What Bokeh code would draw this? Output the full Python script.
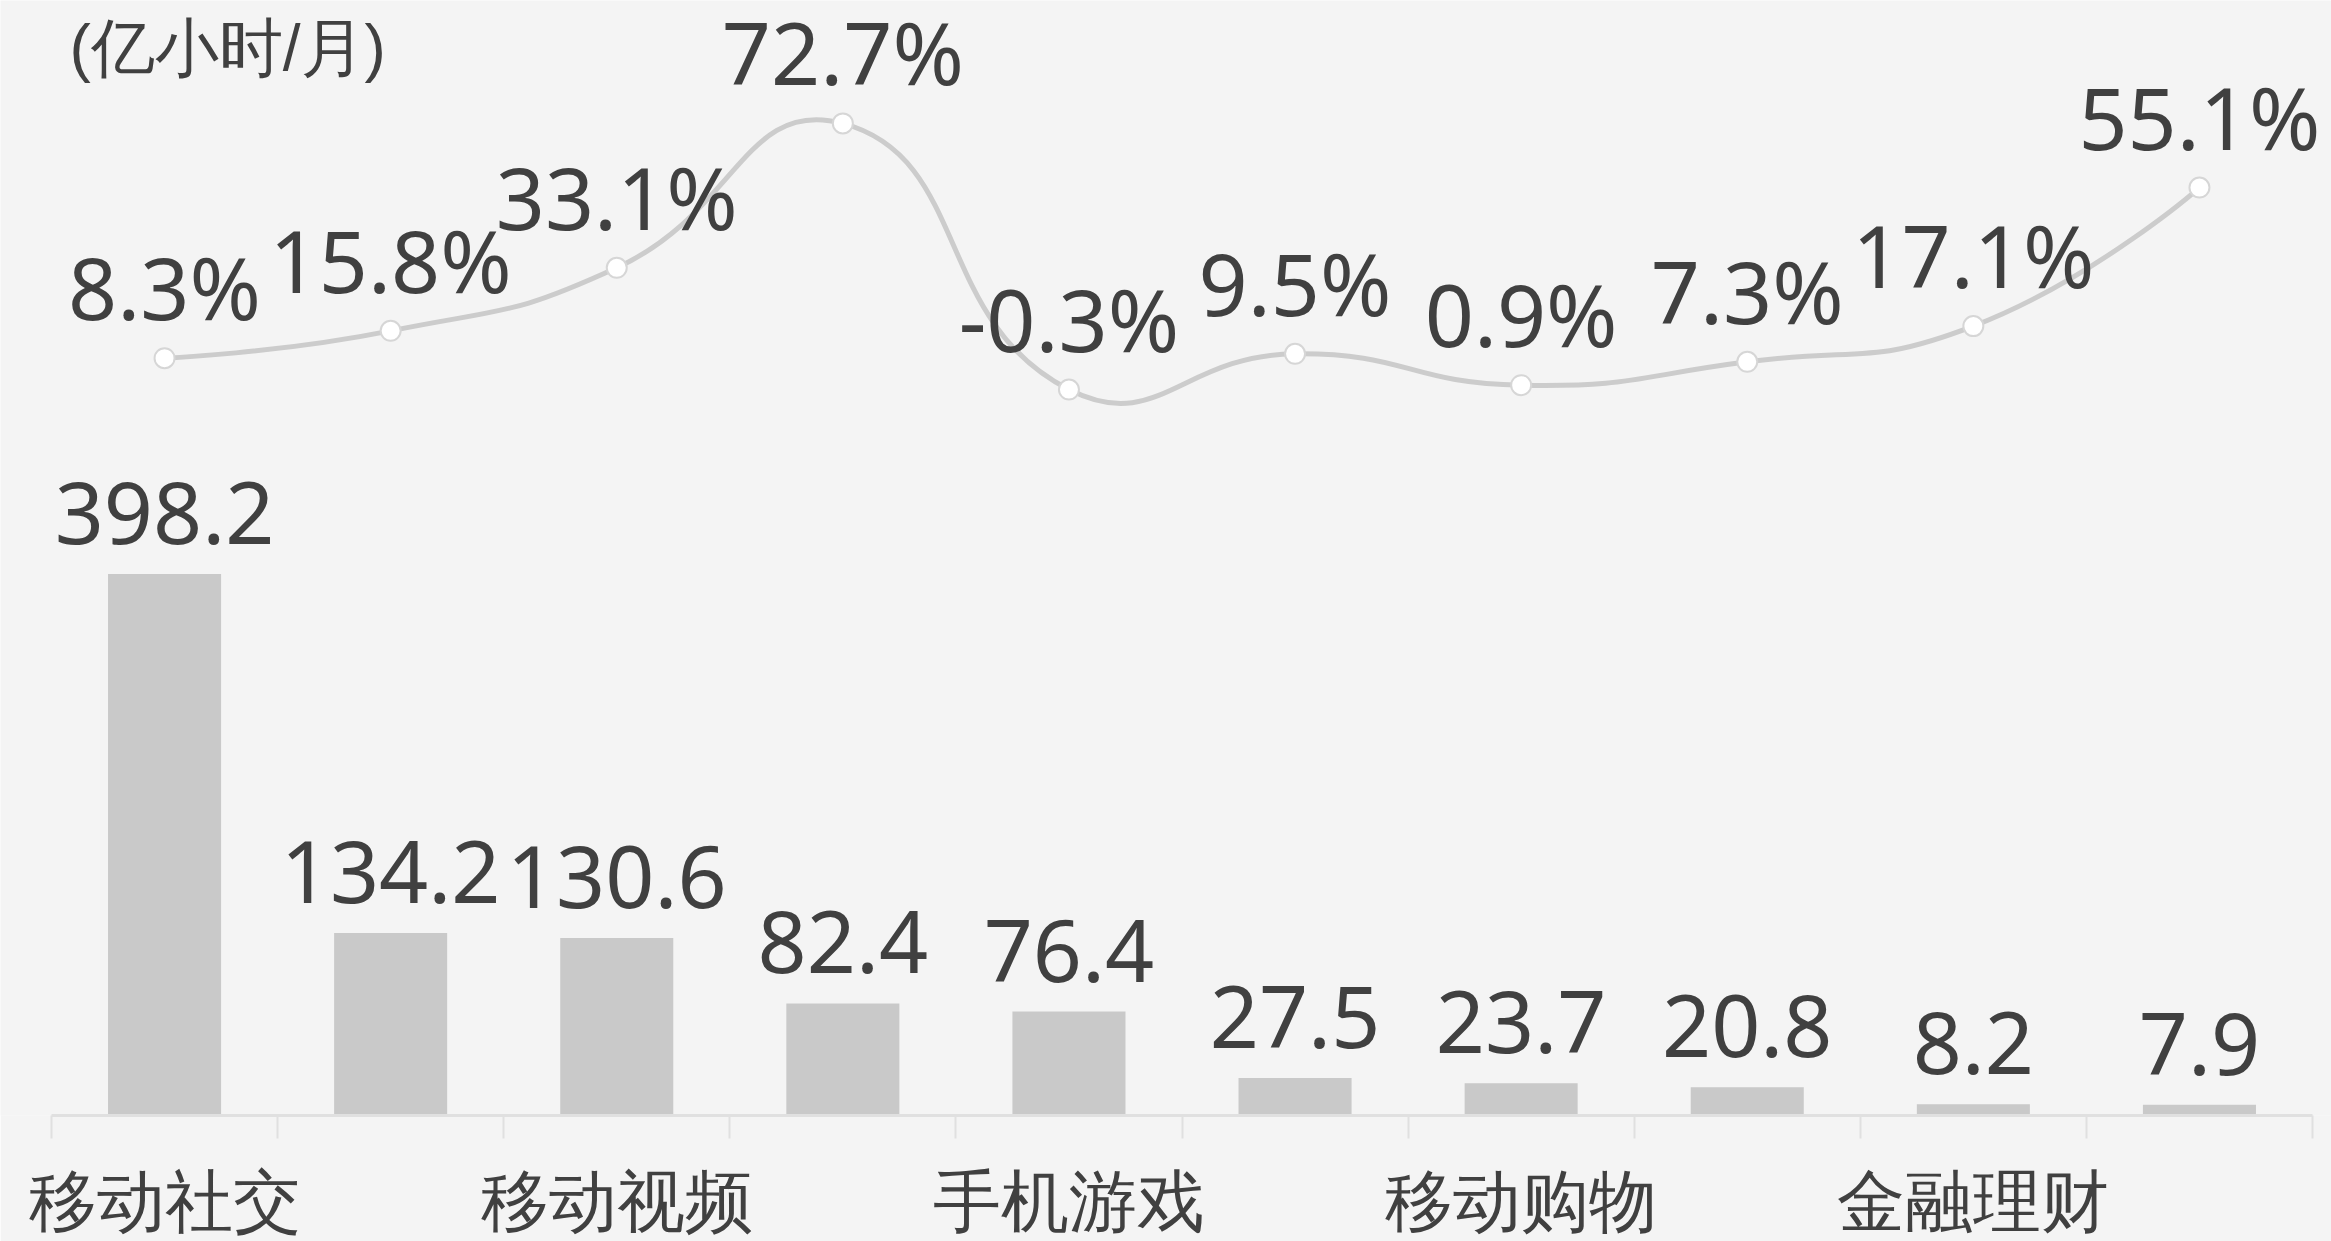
from bokeh.plotting import figure
from bokeh.models import Range1d, LinearAxis, FixedTicker, ColumnDataSource, LabelSet, Label
from bokeh.core.properties import value
from bokeh.embed import file_html
from bokeh.resources import INLINE

# ---- data ----
categories = ["移动社交", "", "移动视频", "", "手机游戏", "", "移动购物", "", "金融理财", ""]
hours = [398.2, 134.2, 130.6, 82.4, 76.4, 27.5, 23.7, 20.8, 8.2, 7.9]
growth = [8.3, 15.8, 33.1, 72.7, -0.3, 9.5, 0.9, 7.3, 17.1, 55.1]
unit_label = "(亿小时/月)"

# ---- style ----
BG = "#f4f4f4"
BAR = "#c9c9c9"
LINE = "#cccccc"
TXT = "#404040"
AX = "#e0e0e0"
NUMFONT = "Noto Sans"
CJKFONT = "Liberation Sans"

W, H = 2331, 1241
MB = 125
FW, FH = W, H - MB
CAT_PX = 226.1          # pixel width of one category slot
LEFT_PAD = 51           # pixels from canvas left to first slot

n = len(hours)
xs = list(range(n))
x_lo = -0.5 - LEFT_PAD / CAT_PX
x_hi = x_lo + FW / CAT_PX
bar_top = 820.0
pct_lo, pct_hi = -199.4, 106.4

p = figure(width=W, height=H, output_backend="svg", toolbar_location=None,
           x_range=Range1d(x_lo, x_hi), y_range=Range1d(0, bar_top),
           y_axis_location=None, x_axis_location=None,
           min_border_left=0, min_border_right=0, min_border_top=0, min_border_bottom=MB)
p.background_fill_color = BG
p.border_fill_color = BG
p.outline_line_color = None
p.grid.visible = False
p.extra_y_ranges = {"pct": Range1d(pct_lo, pct_hi)}

src = ColumnDataSource(dict(x=xs, h=hours, g=growth,
                            hl=[f"{v:.1f}" for v in hours],
                            gl=[f"{v:.1f}%" for v in growth]))

p.vbar(x="x", top="h", width=0.5, source=src, color=BAR, line_color=None)

# smooth curve (echarts-like bezier smoothing), computed in pixel space
sx = FW / (x_hi - x_lo)
sy = FH / (pct_hi - pct_lo)
pts = [(x * sx, g * sy) for x, g in zip(xs, growth)]
smooth = 0.5
cps = []
for i, (px, py) in enumerate(pts):
    if i == 0 or i == n - 1:
        cps.append(((px, py), (px, py)))
        continue
    ax_, ay_ = pts[i - 1]
    bx_, by_ = pts[i + 1]
    vx, vy = bx_ - ax_, by_ - ay_
    d0 = ((px - ax_) ** 2 + (py - ay_) ** 2) ** 0.5
    d1 = ((px - bx_) ** 2 + (py - by_) ** 2) ** 0.5
    r = d1 / (d0 + d1)
    cin = (px - vx * smooth * (1 - r), py - vy * smooth * (1 - r))
    cout = (px + vx * smooth * r, py + vy * smooth * r)
    cps.append((cin, cout))
bz = dict(x0=[], y0=[], x1=[], y1=[], cx0=[], cy0=[], cx1=[], cy1=[])
for i in range(n - 1):
    bz["x0"].append(xs[i]); bz["y0"].append(growth[i])
    bz["x1"].append(xs[i + 1]); bz["y1"].append(growth[i + 1])
    bz["cx0"].append(cps[i][1][0] / sx); bz["cy0"].append(cps[i][1][1] / sy)
    bz["cx1"].append(cps[i + 1][0][0] / sx); bz["cy1"].append(cps[i + 1][0][1] / sy)
p.bezier(x0="x0", y0="y0", x1="x1", y1="y1", cx0="cx0", cy0="cy0", cx1="cx1", cy1="cy1",
         source=ColumnDataSource(bz), y_range_name="pct", line_color=LINE, line_width=5)
p.scatter(x="x", y="g", source=src, y_range_name="pct", size=20, marker="circle",
          fill_color="white", line_color="#d6d6d6", line_width=2)

# value labels
p.add_layout(LabelSet(x="x", y="h", text="hl", source=src, y_offset=30,
                      text_align="center", text_baseline="alphabetic",
                      text_font=value(NUMFONT), text_font_size=value("86px"), text_color=TXT))
p.add_layout(LabelSet(x="x", y="g", text="gl", source=src, y_range_name="pct", y_offset=38,
                      text_align="center", text_baseline="alphabetic",
                      text_font=value(NUMFONT), text_font_size=value("86px"), text_color=TXT))

p.add_layout(Label(x=-0.5, y=bar_top, x_offset=18, y_offset=-11, text=unit_label,
                   text_align="left", text_baseline="top",
                   text_font=CJKFONT, text_font_size="64px", text_color=TXT))

# x axis: boundary ticks, category names under every other slot
xa = LinearAxis(ticker=FixedTicker(ticks=xs, minor_ticks=[i - 0.5 for i in range(n + 1)]),
                bounds=(-0.5, n - 0.5))
xa.major_label_overrides = {i: c for i, c in enumerate(categories)}
xa.major_tick_line_color = None
xa.major_tick_out = 0
xa.major_tick_in = 0
xa.minor_tick_out = 23
xa.minor_tick_in = 0
xa.minor_tick_line_color = AX
xa.minor_tick_line_width = 2
xa.axis_line_color = AX
xa.axis_line_width = 3
xa.major_label_standoff = 24
xa.major_label_text_font = CJKFONT
xa.major_label_text_font_size = "68px"
xa.major_label_text_color = TXT
p.add_layout(xa, "below")

open("out.html", "w").write(file_html(p, INLINE))
